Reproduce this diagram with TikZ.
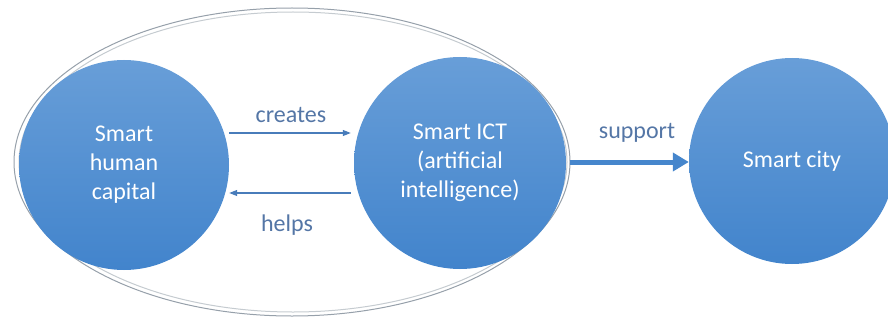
\documentclass[tikz,border=0pt]{standalone}
\usepackage{fontspec}
\setmainfont{Carlito}
\usetikzlibrary{arrows.meta,calc}
\definecolor{circtop}{RGB}{104,158,216}
\definecolor{circbot}{RGB}{66,132,204}
\definecolor{arrowblue}{RGB}{72,124,186}
\definecolor{supblue}{RGB}{70,134,204}
\definecolor{labelblue}{RGB}{84,118,166}
\definecolor{ringgray}{RGB}{150,160,170}
\tikzset{
  bubble/.style={circle, inner sep=0pt, draw=none, top color=circtop, bottom color=circbot,
    text=white, align=center, font=\fontsize{24}{29}\selectfont},
  thinarrow/.style={draw=arrowblue, line width=1.1pt, -{Triangle[length=8pt,width=6pt]}},
  thickarrow/.style={draw=supblue, line width=5pt, -{Triangle[length=16pt,width=18pt]}},
  lbl/.style={text=labelblue, font=\fontsize{24}{29}\selectfont},
}
\begin{document}
\begin{tikzpicture}[x=1pt,y=1pt]
\useasboundingbox (0,0) rectangle (888,322);
% enclosing ellipse (double gray line)
\draw[ringgray, line width=1pt] (292,160) ellipse [x radius=278, y radius=154];
\draw[ringgray!55, line width=1pt] (293,160) ellipse [x radius=274, y radius=150];
% circles
\node[bubble, minimum size=210pt] (A) at (124,157) {Smart\\human\\capital};
\node[bubble, minimum size=212pt] (B) at (460,159) {Smart ICT\\(artificial\\intelligence)};
\node[bubble, minimum size=206pt] (C) at (792,161) {Smart city};
% connectors
\coordinate (a1) at ([yshift=32pt]A.east);
\coordinate (b1) at ([xshift=-3pt,yshift=30pt]B.west);
\coordinate (a2) at ([yshift=-28pt]A.east);
\coordinate (b2) at ([xshift=-3pt,yshift=-30pt]B.west);
\draw[thinarrow] (a1) -- (a1 -| b1);
\draw[thinarrow] (b2) -- (b2 -| a2);
\coordinate (s1) at (570,160);
\draw[thickarrow] (s1) -- (s1 -| C.west);
% labels
\node[lbl] (cr) at (291,207) {creates};
\node[lbl] (he) at (287,97) {helps};
\node[lbl] (su) at (637,189) {support};
\end{tikzpicture}
\end{document}
